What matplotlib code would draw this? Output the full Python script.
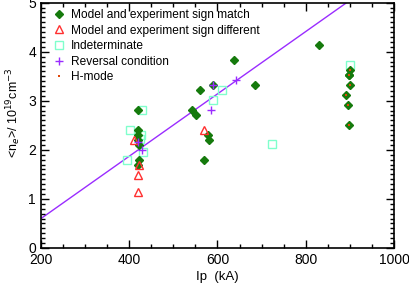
import numpy as np
import matplotlib
matplotlib.use('Agg')
import matplotlib.pyplot as plt
from matplotlib.ticker import MultipleLocator

# sign match (green diamonds)
match_ip = [419, 419, 420, 421, 422, 422, 421, 543, 551, 560, 570, 579, 580, 591, 638, 686, 830,
            901, 899, 897, 900, 891, 895, 899]
match_ne = [2.81, 2.40, 2.30, 2.20, 2.10, 1.79, 1.70, 2.81, 2.71, 3.22, 1.79, 2.30, 2.20, 3.32, 3.83, 3.32, 4.13,
            3.62, 3.52, 3.52, 3.32, 3.12, 2.91, 2.50]

# sign different (red triangles)
diff_ip = [411, 423, 421, 419, 570]
diff_ne = [2.20, 1.69, 1.49, 1.15, 2.40]

# indeterminate (squares)
ind_ip = [428, 402, 427, 425, 432, 396, 591, 610, 724, 900]
ind_ne = [2.81, 2.40, 2.30, 2.22, 1.96, 1.79, 3.01, 3.22, 2.12, 3.73]

# reversal condition (plus)
rev_ip = [421, 430, 586, 591, 641]
rev_ne = [2.16, 2.00, 2.81, 3.32, 3.42]

# H-mode (dots)
h_ip = [901, 899, 897, 900, 891, 895, 899]
h_ne = [3.62, 3.52, 3.52, 3.32, 3.12, 2.91, 2.50]

# fitted line
fit_ip = [200, 1000]
fit_ne = [0.60, 5.68]

green = '#157a0c'
red = '#ff3030'
aqua = '#80ffcc'
purple = '#9a2cff'
orange = '#e0480a'

plt.rcParams['font.family'] = 'Liberation Sans'
fig = plt.figure(figsize=(4.09, 2.87), dpi=100)
ax = fig.add_axes([0.1002, 0.1359, 0.863, 0.855])

ax.plot(fit_ip, fit_ne, color=purple, lw=1.0, zorder=1)
ax.plot(ind_ip, ind_ne, 's', ms=5.5, mfc='none', mec=aqua, mew=1.0, ls='none', label='Indeterminate', zorder=2)
ax.plot(match_ip, match_ne, 'D', ms=3.8, color=green, ls='none', label='Model and experiment sign match', zorder=3)
ax.plot(diff_ip, diff_ne, '^', ms=5.5, mfc='none', mec=red, mew=1.0, ls='none', label='Model and experiment sign different', zorder=4)
ax.plot(rev_ip, rev_ne, '+', ms=6, color=purple, mew=1.0, ls='none', label='Reversal condition', zorder=5)
ax.plot(h_ip, h_ne, 's', ms=2, color=orange, mew=0, ls='none', label='H-mode', zorder=6)

ax.set_xlim(200, 1000)
ax.set_ylim(0, 5)
ax.xaxis.set_major_locator(MultipleLocator(200))
ax.xaxis.set_minor_locator(MultipleLocator(50))
ax.yaxis.set_major_locator(MultipleLocator(1))
ax.yaxis.set_minor_locator(MultipleLocator(0.1))
ax.tick_params(which='both', direction='in', top=True, right=True, labelsize=10, width=1)
ax.tick_params(which='major', length=6)
ax.tick_params(which='minor', length=3)
for s in ax.spines.values():
    s.set_linewidth(1.2)

ax.set_xlabel('Ip  (kA)', fontsize=9.5, labelpad=3)
ax.set_ylabel(r'<n$_e$>/ 10$^{19}$cm$^{-3}$', fontsize=9)
ax.yaxis.set_label_coords(-0.05, 0.55)

handles, labels = ax.get_legend_handles_labels()
order = [1, 2, 0, 3, 4]
ax.legend([handles[i] for i in order], [labels[i] for i in order], loc='upper left', frameon=False,
          fontsize=8.6, handlelength=1.0, handletextpad=0.5, labelspacing=0.3, borderaxespad=0.5,
          borderpad=0.2, bbox_to_anchor=(0.01, 1.008))

fig.savefig('out.png', dpi=100)
